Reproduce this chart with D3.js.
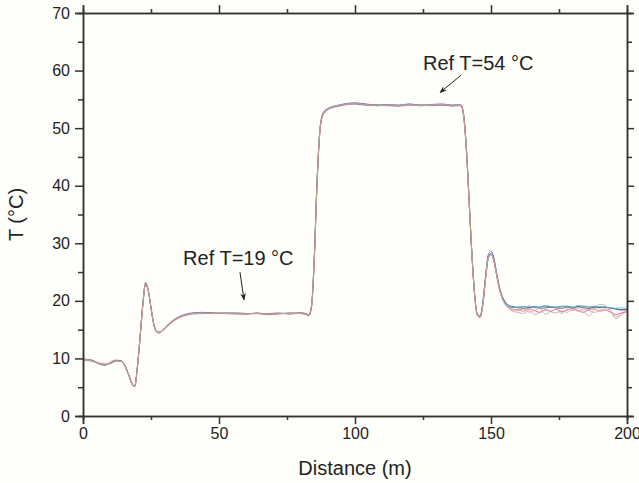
<!DOCTYPE html>
<html>
<head>
<meta charset="utf-8">
<script src="https://cdn.jsdelivr.net/npm/d3@7"></script>
<style>
  html, body { margin: 0; padding: 0; background: #fefefa; }
  svg { display: block; font-family: "Liberation Sans", Arial, sans-serif; }
</style>
</head>
<body>
<div id="chart"></div>
<script>
// distance samples (m), shared by every trace
const distance = [
  0,2,4,6,8,10,12,14,16,17,18,19,20,21,22,23,24,25,26,27,28,30,32,34,36,38,40,
  44,48,52,56,60,64,68,72,76,80,82,83,84,85,86,87,88,89,90,92,94,96,
  100,104,108,112,116,120,124,128,132,136,138,139,140,141,142,143,144,145,146,147,148,149,150,
  151,152,153,154,155,156,157,158,160,162,164,166,168,170,172,174,176,178,180,182,184,186,188,190,192,194,196,198,200
];

// temperature traces (°C)
const traceBlack = [
  9.8,9.7,9.5,9.1,8.9,9.2,9.6,9.5,8.1,6.9,5.6,5.2,8.6,13.8,19.4,23.0,21.8,18.8,16.0,14.7,14.5,15.2,16.1,16.8,17.3,17.6,17.8,
  17.9,17.8,17.9,17.8,17.7,17.9,17.7,17.8,17.8,17.9,17.7,17.5,19.0,27.0,40.0,49.0,52.2,53.0,53.3,53.7,53.9,54.1,
  54.3,54.1,53.9,54.0,53.9,54.1,53.9,54.0,54.1,53.9,54.0,53.9,52.0,46.0,37.0,28.0,21.0,17.6,17.3,19.5,24.0,27.6,28.2,
  27.2,24.8,22.4,20.8,19.9,19.3,19.0,18.9,18.8,18.7,18.8,18.9,18.7,18.8,18.9,18.8,18.7,18.9,18.8,19.0,18.8,18.7,18.9,18.8,18.9,18.7,18.6,18.4,18.5
];
const traceBlue = [
  9.9,9.8,9.6,9.0,8.8,9.3,9.7,9.6,8.2,6.8,5.5,5.1,8.5,13.9,19.6,23.2,21.9,18.7,15.9,14.6,14.4,15.3,16.2,16.9,17.4,17.7,17.9,
  18.0,17.9,17.8,17.9,17.8,17.8,17.8,17.9,17.7,17.9,17.8,17.6,19.2,27.3,40.3,49.2,52.3,53.1,53.4,53.8,54.0,54.2,
  54.4,54.2,54.0,54.1,54.0,54.2,54.0,54.1,54.2,54.0,54.1,54.0,52.2,46.2,37.2,28.1,21.1,17.7,17.4,19.8,24.3,28.0,28.6,
  27.6,25.1,22.6,21.0,20.0,19.4,19.1,19.0,18.9,19.0,18.9,19.0,18.9,19.1,19.0,18.9,19.0,19.1,18.9,19.0,19.1,18.9,19.0,18.9,18.9,18.8,18.6,18.5,18.6
];
const traceRed = [
  9.7,9.8,9.5,9.2,9.0,9.1,9.5,9.6,8.0,7.0,5.7,5.2,8.4,13.6,19.2,22.9,21.7,18.9,16.1,14.8,14.6,15.1,16.0,16.7,17.2,17.5,17.7,
  17.8,17.9,17.8,17.7,17.8,17.8,17.6,17.7,17.9,17.8,17.6,17.4,18.8,26.6,39.6,48.8,52.0,52.8,53.2,53.6,53.8,54.0,
  54.2,54.0,54.0,53.9,53.8,54.0,54.0,53.9,54.0,53.8,53.9,53.8,51.8,45.6,36.6,27.7,20.8,17.4,17.1,19.2,23.7,27.3,28.0,
  27.0,24.6,22.2,20.6,19.6,19.0,18.7,18.4,18.5,18.2,18.6,18.3,18.0,18.5,18.2,18.6,18.1,18.4,18.7,18.3,18.0,18.5,18.6,18.2,18.4,18.0,17.6,17.9,18.1
];
const traceCyan = [
  9.8,9.6,9.4,9.1,8.9,9.2,9.6,9.5,8.1,6.9,5.6,5.2,8.6,13.7,19.3,22.9,21.8,18.8,16.0,14.7,14.5,15.2,16.1,16.8,17.3,17.6,17.8,
  17.9,17.8,17.9,17.9,17.8,17.8,17.7,17.8,17.9,17.8,17.7,17.5,19.0,27.0,40.0,49.0,52.1,52.9,53.3,53.8,54.0,54.2,
  54.2,54.0,54.1,54.0,54.0,54.2,54.0,54.1,54.0,54.0,54.1,53.9,52.0,46.0,37.0,28.0,21.0,17.6,17.3,19.5,24.0,27.6,28.2,
  27.2,24.8,22.4,20.8,19.8,19.3,19.0,18.8,18.9,18.9,19.1,18.8,19.0,19.2,19.0,18.9,19.1,19.0,18.8,19.2,19.0,18.9,19.1,19.0,18.9,18.8,18.7,18.8,18.7
];
const tracePink = [
  9.8,9.7,9.4,9.1,9.0,9.2,9.5,9.5,8.1,6.9,5.6,5.1,8.5,13.7,19.3,23.0,21.7,18.8,16.0,14.7,14.5,15.1,16.1,16.8,17.3,17.6,17.8,
  17.8,17.8,17.9,17.8,17.7,17.8,17.7,17.8,17.8,17.8,17.7,17.5,18.9,26.8,39.8,48.9,52.1,52.9,53.2,53.7,53.9,54.1,
  54.3,54.1,53.9,54.0,53.9,54.1,53.9,54.0,54.1,53.9,54.0,53.9,51.9,45.8,36.8,27.9,20.9,17.5,17.2,19.3,23.8,27.4,28.1,
  27.0,24.6,22.2,20.6,19.5,18.9,18.5,18.2,18.0,17.8,18.3,17.6,18.0,18.4,18.1,17.9,18.3,18.0,18.5,18.2,18.6,18.3,18.0,18.4,18.6,18.3,17.2,17.6,18.3
];
const traceOlive = [
  9.8,9.7,9.5,9.1,8.9,9.2,9.6,9.5,8.1,6.9,5.6,5.2,8.5,13.8,19.4,23.0,21.8,18.8,16.0,14.7,14.5,15.2,16.1,16.8,17.3,17.6,17.8,
  17.9,17.8,17.8,17.8,17.7,17.9,17.7,17.8,17.8,17.9,17.7,17.5,19.0,26.9,39.9,49.0,52.2,53.0,53.3,53.7,53.9,54.1,
  54.3,54.1,53.9,54.0,53.9,54.1,53.9,54.0,54.1,53.9,54.0,53.9,52.0,46.0,37.0,28.0,21.0,17.6,17.3,19.4,23.9,27.5,28.1,
  27.1,24.7,22.3,20.7,19.6,19.1,18.8,18.6,18.3,18.6,18.0,18.4,18.7,17.7,18.2,18.5,17.8,18.6,18.3,18.8,18.2,17.4,18.5,19.4,19.2,18.1,16.9,17.8,18.5
];

// drawn in this order, last on top
const traces = [
  { color: "#3a3a4a", values: traceBlack },
  { color: "#3a4aa8", values: traceBlue },
  { color: "#4cc6d0", values: traceCyan },
  { color: "#d2506e", values: traceRed },
  { color: "#e48aa8", values: tracePink },
  { color: "#b8a88c", values: traceOlive }
];

const xTicks = [0, 50, 100, 150, 200];
const yTicks = [0, 10, 20, 30, 40, 50, 60, 70];

const notes = [
  { text: "Ref T=19 °C", tx: 36.8, ty: 26.2, from: [57.7, 25.0], to: [59.2, 20.2] },
  { text: "Ref T=54 °C", tx: 125.0, ty: 60.1, from: [139.0, 59.2], to: [131.3, 56.2] }
];

const width = 639, height = 483;
const margin = { top: 13, right: 12, bottom: 67, left: 83 };

const svg = d3.select("#chart").append("svg")
  .attr("width", width)
  .attr("height", height);

svg.append("rect").attr("width", width).attr("height", height).attr("fill", "#fefefa");

const x = d3.scaleLinear().domain([0, 200]).range([margin.left, width - margin.right]);
const y = d3.scaleLinear().domain([0, 70]).range([height - margin.bottom, margin.top]);

// arrow marker
svg.append("defs").append("marker")
  .attr("id", "arrow")
  .attr("viewBox", "0 0 10 10")
  .attr("refX", 9).attr("refY", 5)
  .attr("markerWidth", 7).attr("markerHeight", 7)
  .attr("orient", "auto")
  .append("path")
  .attr("d", "M0,1 L10,5 L0,9 L3,5 Z")
  .attr("fill", "#222");

// traces
const line = d3.line()
  .x((d, i) => x(distance[i]))
  .y(d => y(d))
  .curve(d3.curveMonotoneX);

svg.append("g").selectAll("path")
  .data(traces)
  .join("path")
  .attr("d", d => line(d.values))
  .attr("fill", "none")
  .attr("stroke", d => d.color)
  .attr("stroke-width", 0.9)
  .attr("stroke-opacity", 0.85);

// axes (major + minor ticks, labels only on bottom/left)
const xMinor = d3.range(25, 200, 50);
const yMinor = d3.range(5, 70, 10);

function styleAxis(g) {
  g.selectAll(".domain").attr("stroke", "#333").attr("stroke-width", 1.5);
  g.selectAll(".tick line").attr("stroke", "#333").attr("stroke-width", 1.5);
  g.selectAll("text").attr("fill", "#222").style("font-size", "16px");
}

svg.append("g")
  .attr("transform", `translate(0,${y(0)})`)
  .call(d3.axisBottom(x).tickValues(xTicks).tickSize(8).tickPadding(4))
  .call(styleAxis);
svg.append("g")
  .attr("transform", `translate(0,${y(0)})`)
  .call(d3.axisBottom(x).tickValues(xMinor).tickSize(4).tickFormat(""))
  .call(styleAxis);

svg.append("g")
  .attr("transform", `translate(0,${y(70)})`)
  .call(d3.axisTop(x).tickValues(xTicks).tickSize(8).tickFormat(""))
  .call(styleAxis);
svg.append("g")
  .attr("transform", `translate(0,${y(70)})`)
  .call(d3.axisTop(x).tickValues(xMinor).tickSize(4).tickFormat(""))
  .call(styleAxis);

svg.append("g")
  .attr("transform", `translate(${x(0)},0)`)
  .call(d3.axisLeft(y).tickValues(yTicks).tickSize(8).tickPadding(5))
  .call(styleAxis);
svg.append("g")
  .attr("transform", `translate(${x(0)},0)`)
  .call(d3.axisLeft(y).tickValues(yMinor).tickSize(5).tickFormat(""))
  .call(styleAxis);

svg.append("g")
  .attr("transform", `translate(${x(200)},0)`)
  .call(d3.axisRight(y).tickValues(yTicks).tickSize(7).tickFormat(""))
  .call(styleAxis);
svg.append("g")
  .attr("transform", `translate(${x(200)},0)`)
  .call(d3.axisRight(y).tickValues(yMinor).tickSize(5).tickFormat(""))
  .call(styleAxis);

// axis titles
svg.append("text")
  .attr("x", x(100))
  .attr("y", 475)
  .attr("text-anchor", "middle")
  .attr("fill", "#222")
  .style("font-size", "20px")
  .text("Distance (m)");

svg.append("text")
  .attr("transform", `translate(23,${y(35)}) rotate(-90)`)
  .attr("text-anchor", "middle")
  .attr("fill", "#222")
  .style("font-size", "20px")
  .text("T (°C)");

// annotations
const ann = svg.append("g");
ann.selectAll("text")
  .data(notes)
  .join("text")
  .attr("x", d => x(d.tx))
  .attr("y", d => y(d.ty))
  .attr("fill", "#222")
  .style("font-size", "20px")
  .text(d => d.text);
ann.selectAll("line")
  .data(notes)
  .join("line")
  .attr("x1", d => x(d.from[0])).attr("y1", d => y(d.from[1]))
  .attr("x2", d => x(d.to[0])).attr("y2", d => y(d.to[1]))
  .attr("stroke", "#222")
  .attr("stroke-width", 1)
  .attr("marker-end", "url(#arrow)");
</script>
</body>
</html>
